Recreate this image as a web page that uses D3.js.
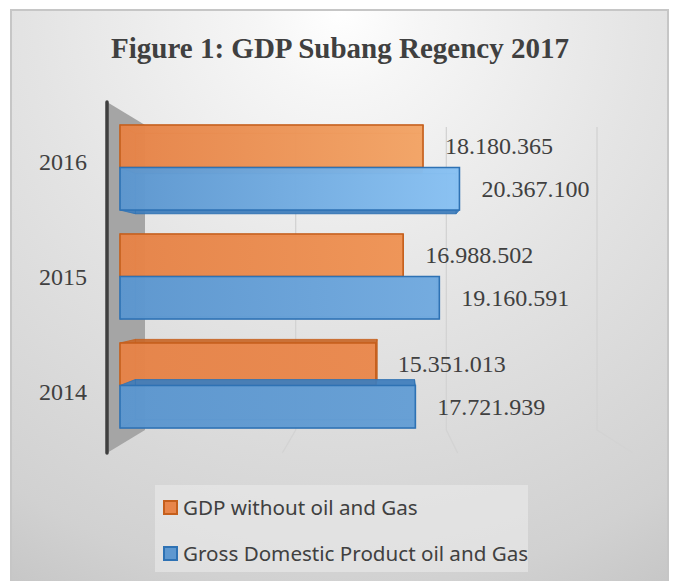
<!DOCTYPE html>
<html>
<head>
<meta charset="utf-8">
<script src="https://cdn.jsdelivr.net/npm/d3@7"></script>
<style>
  body { margin: 0; background: #fff; }
</style>
</head>
<body>
<svg id="chart"></svg>
<script>
// data
const years = ["2016", "2015", "2014"]
const gdpNoOil = [18180365, 16988502, 15351013]
const gdpOil = [20367100, 19160591, 17721939]
const seriesNames = ["GDP without oil and Gas", "Gross Domestic Product oil and Gas"]
const gridTicks = [10e6, 20e6, 30e6]

const width = 673, height = 581

const svg = d3.select("#chart")
    .attr("width", width)
    .attr("height", height)

const defs = svg.append("defs")

let bg = defs.append("radialGradient")
    .attr("id", "bg")
    .attr("gradientUnits", "userSpaceOnUse")
    .attr("cx", 340).attr("cy", 10).attr("r", 680)
bg.append("stop").attr("offset", 0).attr("stop-color", "#ffffff")
bg.append("stop").attr("offset", 0.12).attr("stop-color", "#f6f6f6")
bg.append("stop").attr("offset", 0.45).attr("stop-color", "#e4e4e4")
bg.append("stop").attr("offset", 0.85).attr("stop-color", "#d1d1d1")
bg.append("stop").attr("offset", 1).attr("stop-color", "#c4c4c4")

// chart frame
svg.append("rect")
    .attr("x", 11).attr("y", 10)
    .attr("width", 657).attr("height", 580)
    .attr("fill", "url(#bg)")
    .attr("stroke", "#c6c6c6")
    .attr("stroke-width", 2)

// scales: bars sit in a mid plane, grid on back wall, floor edge on front plane
const x = d3.scaleLinear().domain([0, 30e6]).range([120, 620])
const xBack = d3.scaleLinear().domain([0, 30e6]).range([145, 597])
const xFront = d3.scaleLinear().domain([0, 30e6]).range([107, 633])

const y = d3.scaleBand()
    .domain(years)
    .range([113, 440])
    .paddingInner(0.22)
    .paddingOuter(0.11)
const ySeries = d3.scaleBand()
    .domain([0, 1])
    .range([0, y.bandwidth()])
const yLabel = d3.scalePoint().domain(years).range([170, 400])

const backTop = 127, backBottom = 430, frontTop = 102, frontBottom = 453

// back wall + floor grid lines
let grid = svg.append("g")
    .attr("stroke", "#d3d3d3")
    .attr("stroke-width", 1.3)
    .attr("fill", "none")
grid.selectAll("path")
    .data(gridTicks)
    .enter()
    .append("path")
    .attr("d", d => `M${xBack(d)},${backTop}V${backBottom}L${xFront(d)},${frontBottom}`)

// side wall
svg.append("path")
    .attr("d", `M${xFront(0)},${frontTop}L${xBack(0)},${backTop - 2}L${xBack(0)},${backBottom}L${xFront(0)},${frontBottom}Z`)
    .attr("fill", "#a5a5a5")

svg.append("line")
    .attr("x1", xFront(0)).attr("x2", xFront(0))
    .attr("y1", frontTop).attr("y2", frontBottom)
    .attr("stroke", "#3f3f3f")
    .attr("stroke-width", 3.5)
    .attr("stroke-linecap", "round")

// bars
const series = [
    { values: gdpNoOil, stroke: "#c55f1c", side: "#c86a2c", dark: "#e8854a", light: ["#f8ae6f", "#f49b5c", "#ee8d52"] },
    { values: gdpOil, stroke: "#2e72b4", side: "#3f7dbc", dark: "#5e98d0", light: ["#90c8f8", "#78b0e4", "#6aa3d8"] }
]

series.forEach((s, si) => {
    years.forEach((yr, yi) => {
        let g = defs.append("linearGradient")
            .attr("id", `grad${si}_${yi}`)
            .attr("gradientUnits", "userSpaceOnUse")
            .attr("x1", x(0)).attr("x2", x(21e6))
            .attr("y1", 0).attr("y2", 0)
        g.append("stop").attr("offset", 0).attr("stop-color", s.dark)
        g.append("stop").attr("offset", 1).attr("stop-color", s.light[yi])
    })
})

const vp = [400, 278], depth = 0.055
const toBack = p => [p[0] + depth * (vp[0] - p[0]), p[1] + depth * (vp[1] - p[1])]
const poly = pts => "M" + pts.map(p => p.join(",")).join("L") + "Z"

let bars = svg.append("g")

years.forEach((yr, yi) => {
    series.forEach((s, si) => {
        let v = s.values[yi]
        let x0 = x(0), x1 = x(v)
        let y0 = y(yr) + ySeries(si), y1 = y0 + ySeries.bandwidth()
        let f = [[x0, y0], [x1, y0], [x1, y1], [x0, y1]]
        let b = f.map(toBack)
        let faces = [
            b,
            [f[0], f[1], b[1], b[0]],
            [f[3], f[2], b[2], b[3]],
            [f[0], f[3], b[3], b[0]],
            [f[1], f[2], b[2], b[1]]
        ]
        let box = bars.append("g")
        box.selectAll("path.side")
            .data(faces)
            .enter()
            .append("path")
            .attr("class", "side")
            .attr("d", poly)
            .attr("fill", s.side)
            .attr("fill-opacity", 0.75)
            .attr("stroke", s.stroke)
            .attr("stroke-opacity", 0.5)
            .attr("stroke-width", 1)
        box.append("path")
            .attr("d", poly(f))
            .attr("fill", `url(#grad${si}_${yi})`)
            .attr("fill-opacity", 0.9)
            .attr("stroke", s.stroke)
            .attr("stroke-width", 1.6)
    })
})

// value labels
const fmt = d3.formatLocale({ decimal: ",", thousands: ".", grouping: [3], currency: ["", ""] }).format(",")

let labels = svg.append("g")
    .attr("font-family", "'Liberation Serif', 'Times New Roman', serif")
    .attr("font-size", "24px")
    .attr("fill", "#404040")
years.forEach((yr, yi) => {
    series.forEach((s, si) => {
        let v = s.values[yi]
        labels.append("text")
            .attr("x", x(v) + 22)
            .attr("y", y(yr) + ySeries(si) + ySeries.bandwidth() / 2 + 8)
            .text(fmt(v))
    })
})

// category labels
svg.append("g")
    .attr("font-family", "'Liberation Serif', 'Times New Roman', serif")
    .attr("font-size", "24px")
    .attr("fill", "#404040")
    .attr("text-anchor", "middle")
    .selectAll("text")
    .data(years)
    .enter()
    .append("text")
    .attr("x", 63)
    .attr("y", d => yLabel(d))
    .text(d => d)

// title
svg.append("text")
    .attr("x", 340).attr("y", 58)
    .attr("text-anchor", "middle")
    .attr("font-family", "'Liberation Serif', 'Times New Roman', serif")
    .attr("font-weight", "bold")
    .attr("font-size", "29px")
    .attr("fill", "#404040")
    .text("Figure 1: GDP Subang Regency 2017")

// legend
let legend = svg.append("g")
legend.append("rect")
    .attr("x", 155).attr("y", 485)
    .attr("width", 373).attr("height", 87)
    .attr("fill", "#ececec")
    .attr("fill-opacity", 0.55)

let item = legend.selectAll("g.item")
    .data(series)
    .enter()
    .append("g")
    .attr("class", "item")
    .attr("transform", (d, i) => `translate(164,${501 + i * 46})`)
item.append("rect")
    .attr("width", 13).attr("height", 13)
    .attr("fill", d => d.dark)
    .attr("stroke", d => d.stroke)
    .attr("stroke-width", 2)
item.append("text")
    .attr("x", 19).attr("y", 14)
    .attr("font-family", "'Noto Sans', 'DejaVu Sans', sans-serif")
    .attr("font-size", "20.6px")
    .attr("fill", "#404040")
    .text((d, i) => seriesNames[i])
</script>
</body>
</html>
